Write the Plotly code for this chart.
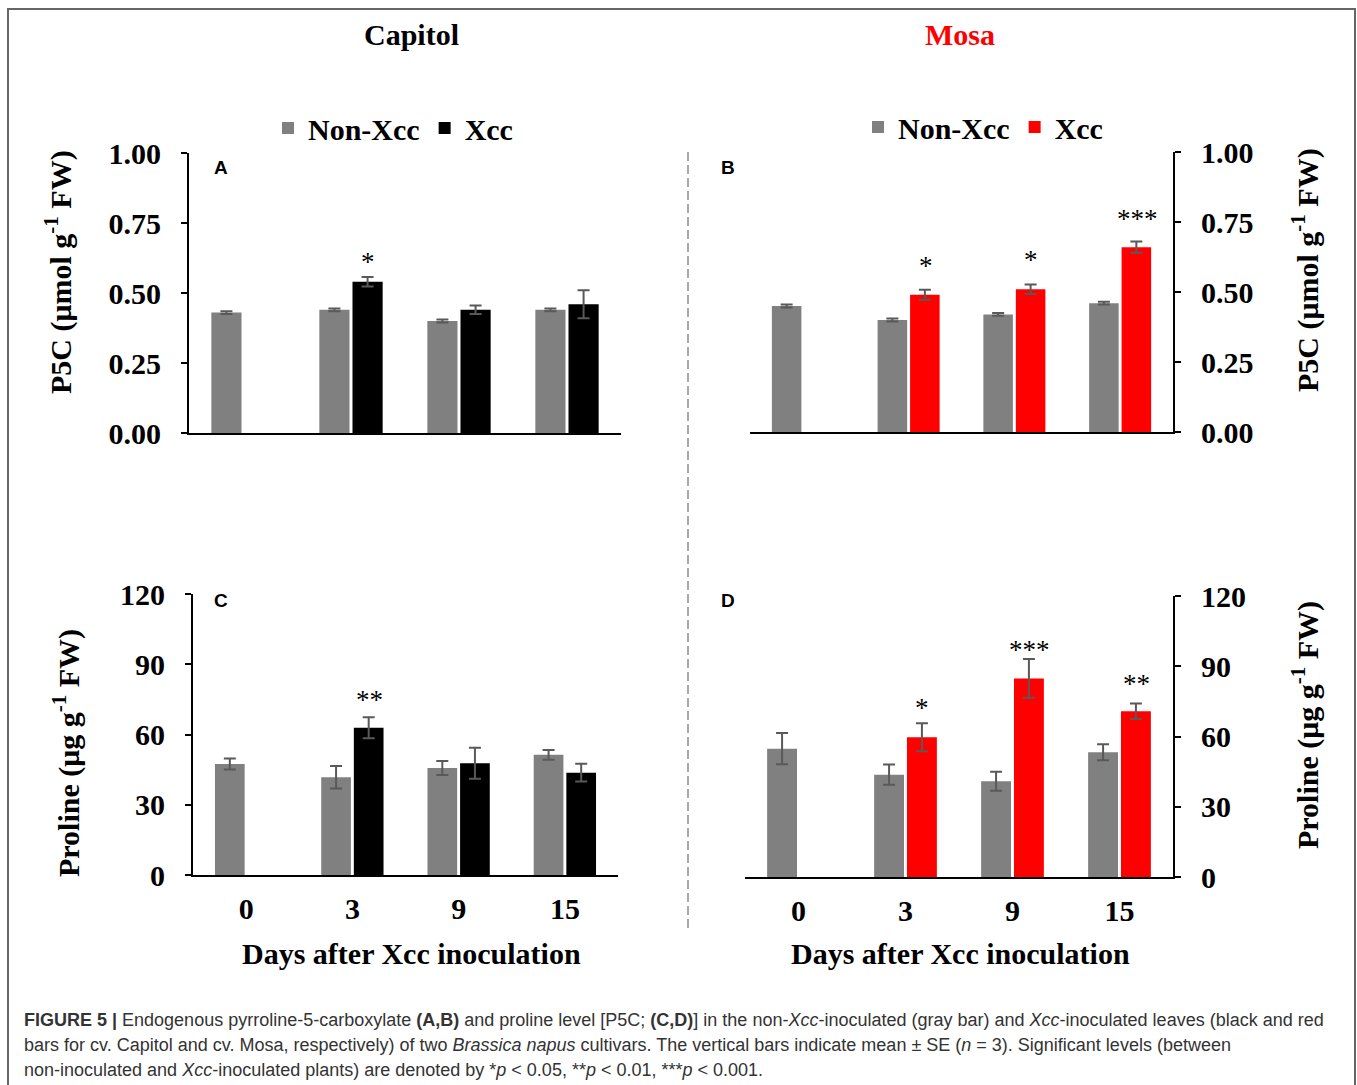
import plotly.graph_objects as go

W, H = 1357, 1085

# ---------------- data ----------------
days = ["0", "3", "9", "15"]
series_names = ["Non-Xcc", "Xcc"]

p5c_capitol_non = [0.43, 0.44, 0.40, 0.44]
p5c_capitol_non_se = [0.005, 0.005, 0.005, 0.005]
p5c_capitol_xcc = [None, 0.54, 0.44, 0.46]
p5c_capitol_xcc_se = [None, 0.017, 0.015, 0.05]

p5c_mosa_non = [0.45, 0.40, 0.42, 0.46]
p5c_mosa_non_se = [0.005, 0.005, 0.005, 0.005]
p5c_mosa_xcc = [None, 0.49, 0.51, 0.66]
p5c_mosa_xcc_se = [None, 0.018, 0.017, 0.02]

pro_capitol_non = [47.4, 41.7, 45.7, 51.3]
pro_capitol_non_se = [2.4, 4.8, 3.0, 2.1]
pro_capitol_xcc = [None, 62.9, 47.7, 43.7]
pro_capitol_xcc_se = [None, 4.5, 6.6, 3.8]

pro_mosa_non = [54.8, 43.7, 40.9, 53.3]
pro_mosa_non_se = [6.7, 4.3, 4.1, 3.4]
pro_mosa_xcc = [None, 59.7, 84.8, 70.8]
pro_mosa_xcc_se = [None, 6.0, 8.3, 3.3]

sig_p5c_capitol = ["", "*", "", ""]
sig_p5c_capitol_y = [None, 0.625, None, None]
sig_p5c_mosa = ["", "*", "*", "***"]
sig_p5c_mosa_y = [None, 0.607, 0.629, 0.775]
sig_pro_capitol = ["", "**", "", ""]
sig_pro_capitol_y = [None, 76.4, None, None]
sig_pro_mosa = ["", "*", "***", "**"]
sig_pro_mosa_y = [None, 74.0, 98.7, 84.3]

p5c_ticks = [0, 0.25, 0.5, 0.75, 1.0]
pro_ticks = [0, 30, 60, 90, 120]

# ---------------- styles ----------------
GRAY = "#808080"
BLACK = "#000000"
RED = "#ff0000"
ERR = "#595959"
SERIF = "Liberation Serif"
SANS = "Liberation Sans"


def px_x(p):
    return p / W


def px_y(p):
    return 1 - p / H


fig = go.Figure()


def add_pair(non, non_se, xcc, xcc_se, xcc_color, xa, ya, legend, show):
    fig.add_trace(go.Bar(
        x=days, y=non, name=series_names[0], marker=dict(color=GRAY, line=dict(width=0)),
        error_y=dict(type="data", array=non_se, color=ERR, thickness=2, width=6),
        xaxis=xa, yaxis=ya, legend=legend, showlegend=show))
    fig.add_trace(go.Bar(
        x=days, y=xcc, name=series_names[1], marker=dict(color=xcc_color, line=dict(width=0)),
        error_y=dict(type="data", array=xcc_se, color=ERR, thickness=2, width=6),
        xaxis=xa, yaxis=ya, legend=legend, showlegend=show))


add_pair(p5c_capitol_non, p5c_capitol_non_se, p5c_capitol_xcc, p5c_capitol_xcc_se, BLACK, "x", "y", "legend", True)
add_pair(p5c_mosa_non, p5c_mosa_non_se, p5c_mosa_xcc, p5c_mosa_xcc_se, RED, "x2", "y2", "legend2", True)
add_pair(pro_capitol_non, pro_capitol_non_se, pro_capitol_xcc, pro_capitol_xcc_se, BLACK, "x3", "y3", "legend", False)
add_pair(pro_mosa_non, pro_mosa_non_se, pro_mosa_xcc, pro_mosa_xcc_se, RED, "x4", "y4", "legend2", False)

tickfont = dict(family=SERIF, size=30, color="black", weight="bold")


def xaxis(domain, anchor, labels):
    return dict(domain=domain, anchor=anchor, type="category", categoryorder="array",
                categoryarray=days, range=[-0.5, 3.5], showline=True, linecolor="black",
                linewidth=2, ticks="", showticklabels=labels, showgrid=False, zeroline=False,
                tickfont=tickfont, ticklabelstandoff=6, automargin=False, fixedrange=True)


def yaxis(domain, anchor, side, rng, tickvals, fmt):
    return dict(domain=domain, anchor=anchor, side=side, range=rng, tickvals=tickvals,
                tickformat=fmt, ticks="outside", ticklen=6, tickwidth=2, tickcolor="black",
                showline=True, linecolor="black", linewidth=2, showgrid=False, zeroline=False,
                tickfont=tickfont, ticklabelstandoff=14, automargin=False, fixedrange=True)


fig.update_layout(
    xaxis=xaxis([px_x(189), px_x(621)], "y", False),
    yaxis=yaxis([px_y(433), px_y(153)], "x", "left", [0, 1], p5c_ticks, ".2f"),
    xaxis2=xaxis([px_x(750), px_x(1173)], "y2", False),
    yaxis2=yaxis([px_y(432), px_y(152)], "x2", "right", [0, 1], p5c_ticks, ".2f"),
    xaxis3=xaxis([px_x(193), px_x(618)], "y3", True),
    yaxis3=yaxis([px_y(875), px_y(594)], "x3", "left", [0, 120], pro_ticks, "d"),
    xaxis4=xaxis([px_x(745), px_x(1173)], "y4", True),
    yaxis4=yaxis([px_y(877), px_y(596)], "x4", "right", [0, 120], pro_ticks, "d"),
)

legend_font = dict(family=SERIF, size=30, color="black", weight="bold")
fig.update_layout(
    barmode="group", bargap=0.386, bargroupgap=0.09,
    width=W, height=H, margin=dict(l=0, r=0, t=0, b=0, pad=0, autoexpand=False),
    paper_bgcolor="white", plot_bgcolor="rgba(0,0,0,0)",
    legend=dict(orientation="h", x=px_x(268), xanchor="left", y=px_y(128), yanchor="middle",
                font=legend_font, bgcolor="rgba(0,0,0,0)", itemclick=False, itemdoubleclick=False),
    legend2=dict(orientation="h", x=px_x(858), xanchor="left", y=px_y(127), yanchor="middle",
                 font=legend_font, bgcolor="rgba(0,0,0,0)", itemclick=False, itemdoubleclick=False),
)

ann = []
# significance marks (x given as category index)
for labels, ys, xa, ya in [
    (sig_p5c_capitol, sig_p5c_capitol_y, "x", "y"),
    (sig_p5c_mosa, sig_p5c_mosa_y, "x2", "y2"),
    (sig_pro_capitol, sig_pro_capitol_y, "x3", "y3"),
    (sig_pro_mosa, sig_pro_mosa_y, "x4", "y4"),
]:
    for i, (lab, yv) in enumerate(zip(labels, ys)):
        if lab:
            ann.append(dict(x=i, y=yv, xref=xa, yref=ya, text=lab, showarrow=False,
                            xshift=17, yshift=-4, xanchor="center", yanchor="middle",
                            font=dict(family=SERIF, size=27, color="black")))


def paper_ann(x, y, text, font, **kw):
    d = dict(x=px_x(x), y=px_y(y), xref="paper", yref="paper", text=text, showarrow=False,
             xanchor="center", yanchor="middle", font=font)
    d.update(kw)
    ann.append(d)


# column titles
paper_ann(411, 35, "<b>Capitol</b>", dict(family=SERIF, size=30, color="black"))
paper_ann(960, 35, "<b>Mosa</b>", dict(family=SERIF, size=30, color=RED))

# panel letters
for letter, (lx, ly) in zip(["A", "B", "C", "D"], [(221, 168), (728, 168), (221, 600), (728, 600)]):
    paper_ann(lx, ly, "<b>%s</b>" % letter, dict(family=SANS, size=19, color="black"))

# axis titles
ytitle_font = dict(family=SERIF, size=30, color="black")
p5c_title = "<b>P5C (μmol g<sup>-1</sup> FW)</b>"
pro_title = "<b>Proline (μg g<sup>-1</sup> FW)</b>"
for txt, (tx, ty) in [(p5c_title, (58, 272)), (p5c_title, (1305, 270)),
                      (pro_title, (66, 753)), (pro_title, (1305, 725))]:
    paper_ann(tx, ty, txt, ytitle_font, textangle=-90)

for cx in (411, 960):
    paper_ann(cx, 954, "<b>Days after Xcc inoculation</b>", dict(family=SERIF, size=30, color="black"))

# caption
caption_lines = [
    "<b>FIGURE 5 |</b> Endogenous pyrroline-5-carboxylate <b>(A,B)</b> and proline level [P5C; <b>(C,D)</b>] "
    "in the non-<i>Xcc</i>-inoculated (gray bar) and <i>Xcc</i>-inoculated leaves (black and red",
    "bars for cv. Capitol and cv. Mosa, respectively) of two <i>Brassica napus</i> cultivars. "
    "The vertical bars indicate mean ± SE (<i>n</i> = 3). Significant levels (between",
    "non-inoculated and <i>Xcc</i>-inoculated plants) are denoted by *<i>p</i> &lt; 0.05, "
    "**<i>p</i> &lt; 0.01, ***<i>p</i> &lt; 0.001.",
]
for line, ly in zip(caption_lines, [1020, 1045, 1070]):
    paper_ann(22, ly, line, dict(family=SANS, size=18, color="#333333"), xanchor="left")

fig.update_layout(annotations=ann)

fig.update_layout(shapes=[
    dict(type="rect", xref="paper", yref="paper", x0=px_x(8), y0=px_y(1100), x1=px_x(1355), y1=px_y(9),
         line=dict(color="#666666", width=2), fillcolor="rgba(0,0,0,0)", layer="below"),
    dict(type="line", xref="paper", yref="paper", x0=px_x(688), x1=px_x(688), y0=px_y(152), y1=px_y(928),
         line=dict(color="#8c8c8c", width=1.5, dash="9px,4px")),
])

fig.write_html("out.html", config={"displayModeBar": False})
